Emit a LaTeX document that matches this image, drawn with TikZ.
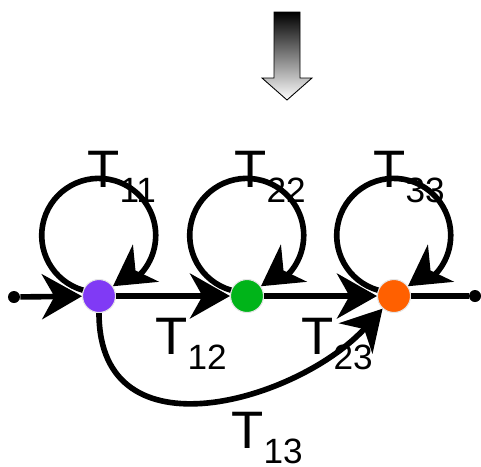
\documentclass[tikz,border=0pt]{standalone}
\usepackage{fontspec}
\newfontfamily\arialfont{Liberation Sans}
\usepackage{tikz}
\usetikzlibrary{arrows.meta}

\definecolor{statepurple}{RGB}{128,58,245}
\definecolor{stategreen}{RGB}{0,180,25}
\definecolor{stateorange}{RGB}{255,96,0}

\newcommand{\lowidx}[1]{\raisebox{-9pt}{\fontsize{20}{20}\selectfont #1}}

\begin{document}
\begin{tikzpicture}[
    state/.style={circle, draw=gray!20, line width=0.6pt, minimum size=0.66cm, inner sep=0pt},
    dot/.style={circle, fill=black, minimum size=0.24cm, inner sep=0pt},
    flow/.style={line width=3.2pt, -{Stealth[length=0.8cm, width=0.9cm, inset=0.25cm]}},
    plain/.style={line width=3.2pt},
    lbl/.style={anchor=base west, inner sep=0pt, font=\arialfont\fontsize{30}{30}\selectfont},
]
    \useasboundingbox (0,0) rectangle (9.62,-9.32);

    % Shaded arrow on top
    \shadedraw[top color=black, bottom color=white, draw=black, line width=0.5pt]
        (5.48,-0.24) -- (6.00,-0.24) -- (6.00,-1.56) -- (6.24,-1.56)
        -- (5.74,-2.00) -- (5.24,-1.56) -- (5.48,-1.56) -- cycle;

    % States
    \node[state, fill=statepurple] at (1.98,-5.92) (n1) {};
    \node[state, fill=stategreen] at (4.94,-5.92) (n2) {};
    \node[state, fill=stateorange] at (7.88,-5.92) (n3) {};
    \node[dot] at (0.28,-5.94) (in) {};
    \node[dot] at (9.50,-5.92) (out) {};

    % Chain
    \draw[flow] (in) -- (n1);
    \draw[flow] (n1) -- (n2);
    \draw[flow] (n2) -- (n3);
    \draw[plain] (n3) -- (out);
    \draw[flow] (n1) .. controls +(0,-3.3) and +(-1.88,-2.08) .. (n3);

    % Self loops
    \foreach \s in {n1,n2,n3}
        \draw[flow] (\s.160) arc[start angle=254, end angle=-40, radius=1.14]
            to[out=230, in=35] (\s);

    % Labels
    \node[lbl] at (1.74,-3.74) (t11) {T\lowidx{11}};
    \node[lbl] at (4.68,-3.74) (t22) {T\lowidx{22}};
    \node[lbl] at (7.46,-3.74) (t33) {T\lowidx{33}};
    \node[lbl] at (3.10,-7.08) (t12) {T\lowidx{12}};
    \node[lbl] at (6.02,-7.08) (t23) {T\lowidx{23}};
    \node[lbl] at (4.62,-8.96) (t13) {T\lowidx{13}};

\end{tikzpicture}
\end{document}
